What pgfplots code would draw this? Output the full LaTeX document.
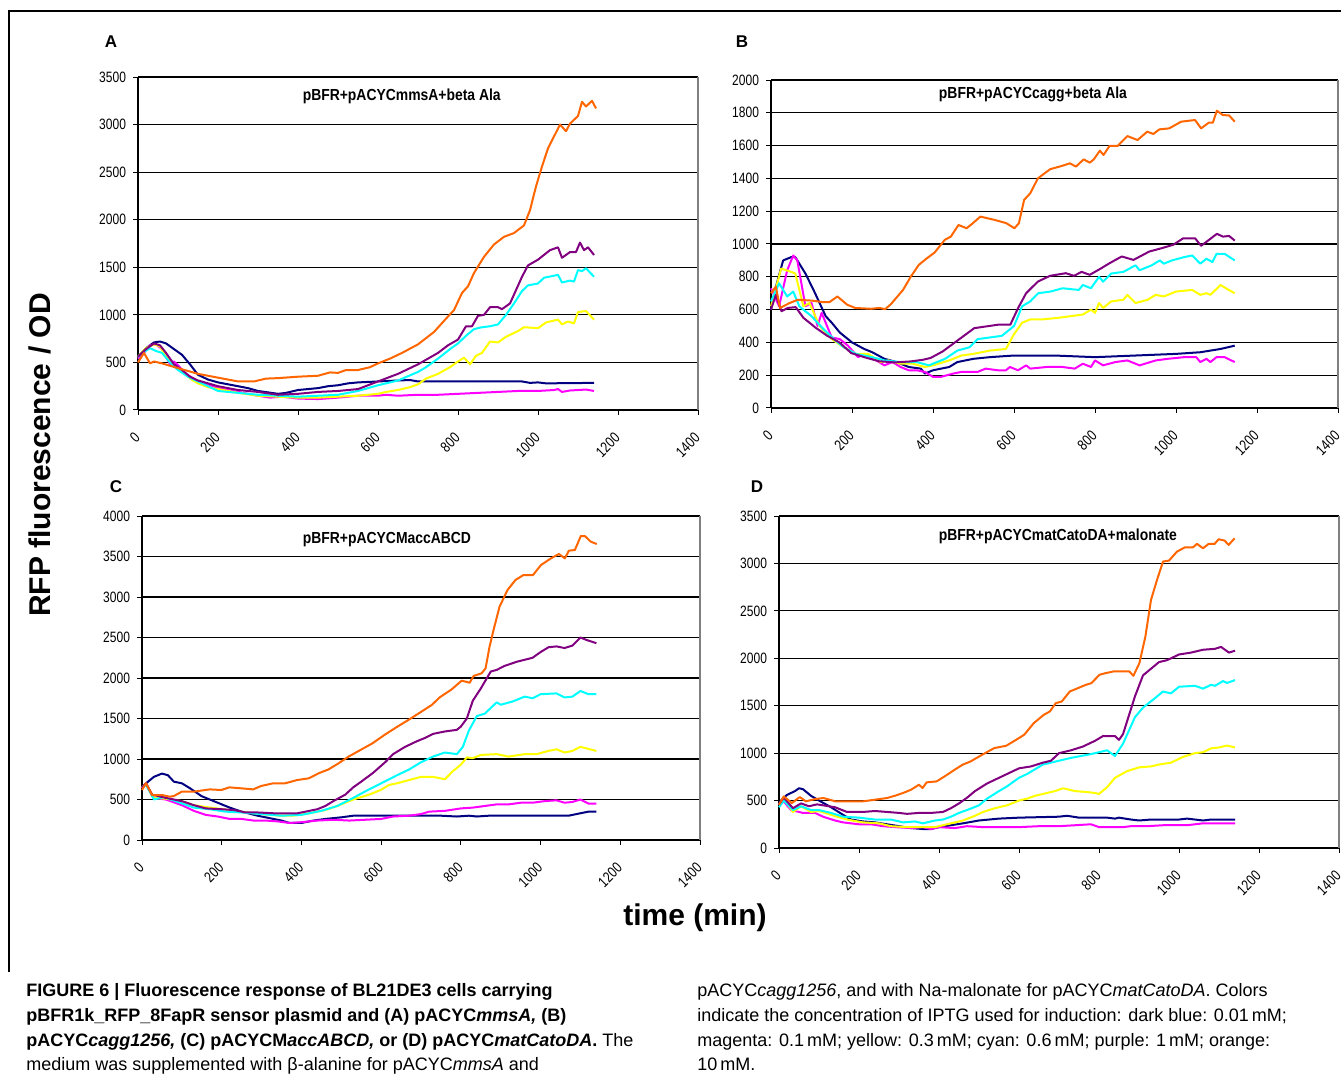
\documentclass[border=0pt]{standalone}
\usepackage{fontspec}
\setmainfont{Liberation Sans}
\newfontfamily\tickfont[FakeStretch=0.8]{Liberation Sans}
\newfontfamily\titlefont[FakeStretch=0.87]{Liberation Sans}
\usepackage{pgfplots}
\pgfplotsset{compat=1.18}
\definecolor{cnavy}{RGB}{0,0,128}
\definecolor{cmag}{RGB}{255,0,255}
\definecolor{cyel}{RGB}{255,255,0}
\definecolor{ccyan}{RGB}{0,255,255}
\definecolor{cpur}{RGB}{128,0,128}
\definecolor{corange}{RGB}{255,102,0}
\pgfplotsset{panel/.style={
  scale only axis, anchor=south west,
  xmin=0, xmax=1400, xtick={0,200,...,1400}, ymin=0,
  axis lines=left, axis line style={-, black, line width=0.6pt},
  tick align=outside, major tick length=2.5pt, tick style={black, line width=0.5pt},
  ymajorgrids, grid style={black, line width=0.6pt},
  ticklabel style={font=\tickfont\fontsize{7.5}{9}\selectfont},
  /pgf/number format/assume math mode=true, /pgf/number format/1000 sep={},
  xticklabel style={rotate=45, anchor=east, yshift=-7pt, xshift=-4pt},
  clip=false,
  every axis plot/.append style={line width=1pt, no marks, line join=round},
}}
\newcommand{\ptitle}[3]{\node[font=\titlefont\bfseries\fontsize{8}{9}\selectfont] at (rel axis cs:#1,#2) {#3};}
\newcommand{\rightedge}{\draw[gray, line width=0.6pt] (rel axis cs:1,0) -- (rel axis cs:1,1);}
\begin{document}
\begin{tikzpicture}
\useasboundingbox (0,0) rectangle (670.5pt,542pt);
\draw[line width=0.6pt] (4.5pt,56pt) -- (4.5pt,536.5pt) -- (672pt,536.5pt);
\node[font=\bfseries\fontsize{8.5}{10}\selectfont] at (55.5pt,521pt) {A};
\node[font=\bfseries\fontsize{8.5}{10}\selectfont] at (371pt,521pt) {B};
\node[font=\bfseries\fontsize{8.5}{10}\selectfont] at (58pt,298.5pt) {C};
\node[font=\bfseries\fontsize{8.5}{10}\selectfont] at (378.5pt,298.5pt) {D};
\node[font=\bfseries\fontsize{15}{18}\selectfont, rotate=90] at (20pt,314.5pt) {RFP fluorescence / OD};
\node[font=\bfseries\fontsize{15}{18}\selectfont] at (347.5pt,83pt) {time (min)};
% Panel A
\begin{axis}[panel, at={(69pt,337pt)}, width=280pt, height=166.5pt, ymax=3500, ytick={0,500,...,3500}]
\addplot[cnavy] coordinates {(0,560)(20,650)(40,710)(55,720)(70,700)(90,640)(110,580)(130,480)(150,370)(175,320)(200,290)(225,270)(250,250)(275,230)(300,200)(325,185)(350,170)(370,180)(400,210)(425,220)(450,230)(475,250)(500,260)(525,280)(550,290)(600,300)(650,310)(680,315)(700,300)(800,300)(900,300)(960,300)(980,285)(1000,290)(1020,280)(1140,285)};
\addplot[cmag] coordinates {(0,540)(15,600)(30,680)(45,690)(60,640)(80,480)(90,510)(100,470)(120,380)(150,300)(175,270)(200,230)(250,190)(300,150)(330,130)(360,140)(400,120)(450,115)(500,130)(550,150)(600,150)(620,160)(650,150)(700,160)(750,160)(800,170)(850,180)(900,190)(950,200)(1000,200)(1040,210)(1050,220)(1060,190)(1080,205)(1100,210)(1120,215)(1140,200)};
\addplot[cyel] coordinates {(0,560)(20,650)(40,690)(55,670)(70,560)(90,470)(110,420)(130,330)(150,280)(175,240)(200,220)(250,180)(300,150)(350,140)(400,130)(450,130)(500,140)(550,150)(600,170)(620,190)(650,210)(680,240)(700,270)(720,330)(750,380)(780,450)(800,510)(815,550)(830,480)(845,570)(860,600)(880,720)(900,710)(920,770)(950,830)(965,870)(1000,860)(1020,920)(1050,950)(1060,900)(1075,930)(1090,910)(1100,1030)(1120,1040)(1140,950)};
\addplot[ccyan] coordinates {(0,560)(15,610)(30,650)(45,620)(60,600)(80,500)(100,420)(125,350)(150,300)(175,250)(200,200)(250,180)(300,160)(350,150)(400,140)(450,150)(500,160)(550,200)(600,260)(650,310)(700,400)(720,450)(750,540)(780,640)(800,700)(820,780)(840,850)(860,870)(880,880)(900,900)(920,1000)(940,1120)(960,1250)(975,1310)(1000,1330)(1015,1390)(1050,1420)(1060,1340)(1080,1360)(1090,1350)(1100,1470)(1110,1460)(1120,1490)(1140,1400)};
\addplot[cpur] coordinates {(0,560)(20,640)(40,700)(55,680)(70,600)(90,480)(110,420)(130,350)(150,310)(175,280)(200,250)(250,210)(300,190)(350,160)(400,170)(450,190)(500,200)(550,220)(600,300)(625,340)(650,380)(675,430)(700,480)(725,540)(750,600)(775,680)(800,740)(820,880)(835,880)(850,990)(865,1000)(880,1080)(900,1080)(910,1060)(930,1120)(960,1400)(975,1520)(1000,1580)(1030,1680)(1050,1710)(1060,1600)(1080,1660)(1095,1660)(1105,1760)(1115,1680)(1125,1710)(1140,1630)};
\addplot[corange] coordinates {(0,500)(15,600)(30,490)(40,510)(60,490)(100,440)(150,380)(200,340)(250,300)(290,300)(320,330)(350,335)(400,350)(450,360)(480,395)(500,390)(520,420)(550,420)(580,450)(600,490)(630,540)(660,600)(700,690)(740,820)(770,960)(790,1050)(810,1230)(825,1300)(840,1440)(865,1610)(890,1740)(915,1820)(940,1860)(965,1940)(980,2100)(995,2350)(1010,2560)(1025,2750)(1055,3000)(1070,2930)(1080,3010)(1100,3090)(1110,3240)(1120,3190)(1135,3250)(1145,3170)};
\rightedge
\ptitle{0.471}{0.943}{pBFR+pACYCmmsA+beta Ala}
\end{axis}
% Panel B
\begin{axis}[panel, at={(385.5pt,338pt)}, width=283.5pt, height=164pt, ymax=2000, ytick={0,200,...,2000}]
\addplot[cnavy] coordinates {(0,600)(10,720)(30,900)(50,920)(60,920)(85,820)(105,720)(135,560)(150,520)(170,460)(200,400)(230,360)(250,340)(280,300)(310,280)(340,250)(370,240)(380,210)(400,230)(440,250)(460,280)(500,300)(540,310)(600,320)(700,320)(800,310)(900,320)(1000,330)(1060,340)(1110,360)(1145,380)};
\addplot[cmag] coordinates {(0,730)(20,620)(40,840)(55,930)(65,900)(85,620)(100,640)(115,500)(125,580)(150,430)(170,420)(190,380)(215,310)(230,330)(260,290)(280,260)(300,280)(320,250)(340,230)(360,230)(380,220)(400,190)(420,190)(450,210)(470,220)(510,220)(530,240)(560,230)(580,230)(590,250)(610,230)(630,260)(640,240)(680,250)(720,250)(750,240)(770,270)(790,250)(800,290)(820,260)(850,280)(880,290)(910,260)(950,290)(980,300)(1020,310)(1050,310)(1060,280)(1075,300)(1085,280)(1100,310)(1120,310)(1145,280)};
\addplot[cyel] coordinates {(0,620)(25,850)(50,830)(60,820)(80,620)(95,640)(120,500)(150,420)(180,370)(210,330)(240,330)(270,280)(290,290)(320,270)(350,270)(380,250)(400,260)(440,290)(470,320)(500,330)(540,350)(580,360)(600,450)(620,520)(640,540)(670,540)(710,550)(740,560)(770,570)(790,600)(800,580)(810,640)(820,610)(840,650)(870,660)(880,690)(900,640)(930,660)(950,690)(970,680)(1000,710)(1040,720)(1060,690)(1075,700)(1085,690)(1110,750)(1130,720)(1145,700)};
\addplot[ccyan] coordinates {(0,650)(20,760)(40,680)(55,710)(70,620)(100,560)(130,480)(160,410)(180,370)(210,330)(250,310)(280,290)(320,280)(360,280)(390,260)(430,300)(460,350)(490,370)(510,420)(540,430)(570,440)(600,500)(620,620)(640,650)(660,700)(690,710)(720,730)(760,720)(770,750)(790,730)(810,800)(820,770)(840,820)(870,830)(900,870)(910,840)(940,870)(960,900)(970,880)(990,900)(1020,920)(1040,930)(1060,880)(1075,910)(1090,890)(1100,940)(1120,940)(1145,900)};
\addplot[cpur] coordinates {(0,600)(12,690)(26,590)(41,610)(61,615)(80,550)(110,490)(139,440)(169,400)(198,335)(237,305)(267,285)(306,278)(345,284)(375,294)(394,305)(424,345)(463,416)(502,487)(561,508)(591,508)(610,609)(630,700)(659,771)(689,806)(728,822)(748,806)(767,830)(787,812)(816,853)(836,883)(866,924)(895,903)(934,954)(964,974)(993,995)(1018,1035)(1047,1035)(1062,989)(1076,1015)(1101,1062)(1116,1045)(1131,1049)(1145,1021)};
\addplot[corange] coordinates {(0,700)(12,740)(22,610)(46,640)(66,660)(100,655)(130,645)(144,645)(164,680)(188,630)(208,610)(247,605)(267,610)(282,603)(296,633)(326,720)(345,800)(365,873)(385,913)(404,948)(429,1025)(444,1045)(463,1116)(483,1096)(498,1126)(517,1167)(552,1147)(581,1127)(601,1096)(612,1126)(625,1269)(640,1309)(659,1400)(689,1456)(718,1476)(738,1492)(753,1472)(772,1516)(787,1496)(797,1516)(812,1569)(821,1543)(836,1598)(856,1598)(880,1658)(905,1634)(929,1685)(944,1671)(959,1699)(983,1705)(1013,1746)(1047,1756)(1062,1705)(1081,1740)(1091,1740)(1101,1813)(1116,1786)(1131,1784)(1145,1746)};
\rightedge
\ptitle{0.462}{0.957}{pBFR+pACYCcagg+beta Ala}
\end{axis}
% Panel C
\begin{axis}[panel, at={(71pt,122pt)}, width=279pt, height=162pt, ymax=4000, ytick={0,500,...,4000}]
\addplot[cnavy] coordinates {(0,650)(15,720)(30,780)(50,820)(65,800)(80,720)(100,700)(120,640)(150,540)(180,480)(220,400)(250,350)(290,300)(320,270)(350,240)(370,210)(400,210)(430,240)(460,260)(500,280)(530,300)(650,300)(750,300)(790,290)(820,300)(840,290)(870,300)(1050,300)(1070,300)(1090,320)(1120,350)(1140,350)};
\addplot[cmag] coordinates {(0,640)(10,700)(30,520)(60,500)(100,430)(130,360)(160,310)(190,290)(220,260)(250,260)(280,240)(310,240)(340,230)(370,210)(400,220)(440,240)(480,250)(520,240)(560,250)(600,260)(630,290)(670,300)(700,320)(720,350)(760,360)(800,390)(830,400)(860,420)(890,440)(920,440)(950,460)(980,460)(1010,480)(1040,490)(1060,460)(1080,470)(1100,500)(1120,450)(1140,450)};
\addplot[cyel] coordinates {(0,650)(10,700)(30,520)(60,510)(100,480)(130,430)(170,400)(220,370)(260,340)(300,320)(350,300)(380,300)(420,330)(460,370)(490,420)(530,500)(570,560)(600,620)(620,680)(640,700)(670,740)(700,780)(730,780)(760,750)(780,850)(800,930)(815,1020)(830,1010)(850,1050)(890,1060)(920,1030)(960,1060)(990,1060)(1020,1100)(1040,1120)(1060,1080)(1080,1100)(1100,1150)(1140,1100)};
\addplot[ccyan] coordinates {(0,650)(10,680)(30,500)(55,530)(90,470)(130,400)(170,380)(210,350)(250,340)(300,320)(350,300)(400,310)(450,360)(490,420)(530,520)(560,600)(600,700)(640,800)(670,870)(700,960)(730,1030)(760,1080)(790,1060)(805,1150)(820,1350)(840,1530)(860,1560)(890,1700)(900,1670)(930,1710)(960,1770)(980,1750)(1000,1800)(1040,1810)(1060,1760)(1080,1770)(1100,1840)(1120,1800)(1140,1800)};
\addplot[cpur] coordinates {(0,650)(10,700)(25,560)(60,520)(100,480)(130,430)(160,390)(200,380)(230,370)(260,340)(290,340)(330,330)(360,330)(390,330)(420,360)(440,380)(460,420)(480,480)(510,560)(530,650)(550,720)(580,830)(610,960)(630,1060)(660,1150)(690,1220)(710,1260)(730,1310)(760,1340)(790,1360)(800,1400)(815,1500)(830,1720)(850,1870)(875,2080)(890,2100)(910,2150)(940,2200)(980,2250)(1000,2320)(1020,2380)(1040,2390)(1060,2370)(1080,2400)(1100,2500)(1115,2470)(1140,2430)};
\addplot[corange] coordinates {(0,617)(10,700)(25,555)(50,555)(70,535)(80,543)(100,597)(130,597)(170,625)(199,617)(219,650)(249,638)(279,625)(299,667)(329,700)(359,700)(389,740)(418,761)(443,823)(468,872)(493,946)(518,1029)(548,1111)(578,1193)(608,1296)(638,1391)(668,1481)(697,1572)(727,1667)(747,1761)(777,1860)(802,1967)(822,1942)(832,2025)(852,2058)(862,2119)(872,2387)(882,2592)(897,2880)(917,3086)(937,3210)(957,3271)(981,3271)(1001,3395)(1026,3477)(1046,3531)(1061,3477)(1071,3572)(1086,3580)(1101,3753)(1111,3753)(1126,3683)(1141,3654)};
\rightedge
\ptitle{0.439}{0.926}{pBFR+pACYCMaccABCD}
\end{axis}
% Panel D
\begin{axis}[panel, at={(389.5pt,118pt)}, width=280pt, height=166pt, ymax=3500, ytick={0,500,...,3500}]
\addplot[cnavy] coordinates {(0,480)(20,560)(40,600)(50,630)(60,620)(80,550)(100,500)(130,430)(160,350)(180,300)(210,280)(240,270)(270,250)(300,230)(330,210)(360,200)(380,200)(400,220)(430,240)(460,260)(500,290)(550,310)(600,320)(700,330)(720,340)(750,320)(820,320)(840,310)(850,320)(880,300)(900,290)(930,300)(1000,300)(1020,310)(1040,300)(1060,290)(1080,300)(1140,300)};
\addplot[cmag] coordinates {(0,450)(12,490)(30,400)(60,370)(90,370)(110,330)(140,290)(160,270)(200,250)(230,250)(260,230)(290,220)(330,210)(360,220)(380,200)(400,220)(440,210)(470,230)(510,220)(600,220)(650,230)(700,230)(780,250)(800,220)(860,220)(880,230)(920,230)(960,240)(1020,240)(1060,260)(1140,260)};
\addplot[cyel] coordinates {(0,460)(12,520)(35,380)(55,440)(80,380)(100,390)(130,350)(170,300)(210,270)(250,260)(280,230)(320,220)(360,220)(390,220)(420,250)(460,290)(490,340)(510,380)(540,420)(570,450)(600,500)(620,520)(640,550)(670,580)(690,600)(710,630)(740,600)(770,590)(790,580)(800,570)(820,640)(840,740)(870,810)(900,850)(930,860)(950,880)(980,900)(1010,960)(1040,1000)(1060,1010)(1080,1050)(1100,1060)(1120,1080)(1140,1060)};
\addplot[ccyan] coordinates {(0,430)(12,500)(35,400)(55,440)(80,400)(100,400)(130,370)(160,330)(200,320)(240,300)(280,300)(310,270)(340,280)(360,260)(390,290)(410,300)(430,330)(450,370)(470,400)(500,450)(520,520)(550,600)(570,650)(600,740)(620,780)(640,830)(660,880)(700,920)(730,950)(780,990)(820,1030)(840,970)(860,1100)(890,1380)(910,1480)(940,1580)(960,1650)(980,1630)(1000,1700)(1040,1710)(1060,1680)(1080,1720)(1090,1710)(1110,1760)(1120,1740)(1140,1770)};
\addplot[cpur] coordinates {(0,460)(12,530)(35,420)(55,470)(75,440)(95,460)(110,450)(140,430)(170,380)(210,380)(240,390)(270,380)(300,370)(320,360)(350,370)(380,370)(410,380)(430,420)(450,470)(470,530)(490,600)(520,680)(550,740)(580,800)(600,840)(630,860)(660,900)(680,920)(700,1000)(730,1030)(760,1070)(790,1130)(810,1180)(840,1180)(850,1140)(860,1200)(890,1600)(910,1820)(930,1890)(950,1960)(970,1980)(1000,2040)(1030,2060)(1060,2090)(1090,2100)(1105,2120)(1125,2060)(1140,2080)};
\addplot[corange] coordinates {(0,456)(12,544)(32,474)(52,537)(67,492)(91,516)(111,527)(141,492)(171,492)(210,492)(240,509)(270,527)(290,551)(310,580)(330,614)(350,667)(359,632)(369,692)(394,702)(414,755)(439,825)(459,878)(479,913)(508,983)(538,1053)(568,1078)(593,1141)(613,1194)(637,1317)(662,1404)(677,1439)(692,1527)(707,1545)(727,1650)(747,1685)(767,1720)(781,1738)(801,1826)(816,1843)(836,1861)(856,1861)(876,1861)(886,1815)(901,1949)(916,2230)(930,2616)(945,2826)(960,3020)(975,3030)(995,3125)(1015,3170)(1035,3170)(1045,3206)(1060,3160)(1074,3206)(1089,3206)(1099,3255)(1114,3241)(1124,3195)(1139,3265)};
\rightedge
\ptitle{0.498}{0.94}{pBFR+pACYCmatCatoDA+malonate}
\end{axis}
% Caption
\begin{scope}[every node/.style={anchor=base west, inner sep=0pt, font=\fontsize{9}{11}\selectfont}]
\node at (13pt,44pt) {\bfseries FIGURE 6 | Fluorescence response of BL21DE3 cells carrying};
\node at (13pt,31.5pt) {\bfseries pBFR1k\_RFP\_8FapR sensor plasmid and (A) pACYC\textit{mmsA,} (B)};
\node at (13pt,19pt) {{\bfseries pACYC\textit{cagg1256,} (C) pACYCM\textit{accABCD,} or (D) pACYC\textit{matCatoDA}.} The};
\node at (13pt,7pt) {medium was supplemented with β-alanine for pACYC\textit{mmsA} and};
\node at (348.5pt,44pt) {pACYC\textit{cagg1256}, and with Na-malonate for pACYC\textit{matCatoDA}. Colors};
\node at (348.5pt,31.5pt) {indicate the concentration of IPTG used for induction: dark blue: 0.01\,mM;};
\node at (348.5pt,19pt) {magenta: 0.1\,mM; yellow: 0.3\,mM; cyan: 0.6\,mM; purple: 1\,mM; orange:};
\node at (348.5pt,7pt) {10\,mM.};
\end{scope}
\end{tikzpicture}
\end{document}
